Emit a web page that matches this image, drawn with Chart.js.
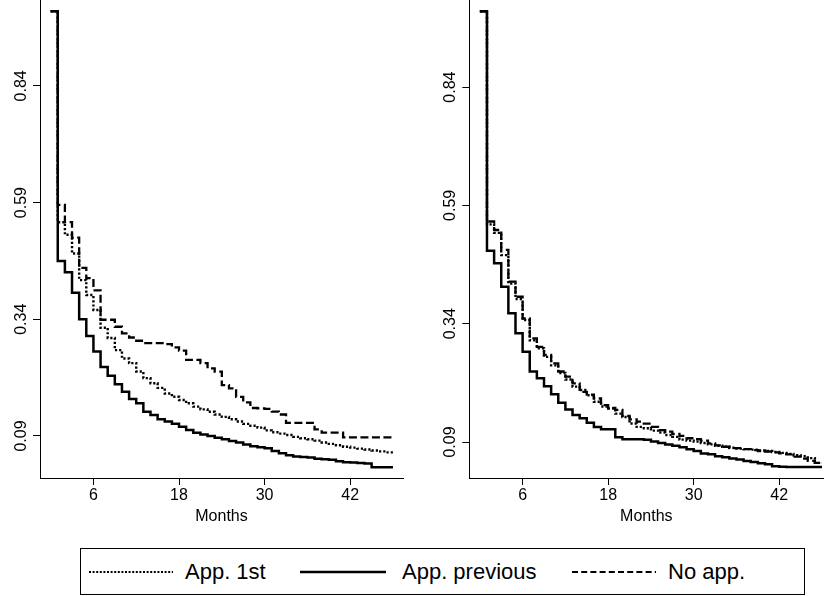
<!DOCTYPE html>
<html>
<head>
<meta charset="utf-8">
<script src="https://cdn.jsdelivr.net/npm/chart.js@4.4.1/dist/chart.umd.min.js"></script>
<style>
	html, body { margin: 0; padding: 0; background: #fff; }
	body { width: 828px; height: 596px; position: relative; overflow: hidden; font-family: "Liberation Sans", Arial, sans-serif; }
	canvas { position: absolute; top: 0; }
	#leftChart { left: 0; }
	#rightChart { left: 414px; }
	#legend { position: absolute; left: 80px; top: 548px; width: 725px; height: 47px; border: 1px solid #000; box-sizing: border-box; }
	#legend .key { position: absolute; top: 0; height: 45px; display: flex; align-items: center; }
	#legend svg { display: block; }
	#legend span { font-size: 22px; color: #000; white-space: nowrap; }
</style>
</head>
<body>
<canvas id="leftChart" width="414" height="530"></canvas>
<canvas id="rightChart" width="414" height="530"></canvas>
<div id="legend">
	<div class="key" style="left:8px"><svg width="84" height="6"><line x1="0" y1="3" x2="84" y2="3" stroke="#000" stroke-width="2" stroke-dasharray="2 1.6"/></svg><span style="margin-left:12px">App. 1st</span></div>
	<div class="key" style="left:219px"><svg width="86" height="6"><line x1="0" y1="3" x2="86" y2="3" stroke="#000" stroke-width="2.5"/></svg><span style="margin-left:16px">App. previous</span></div>
	<div class="key" style="left:491px"><svg width="84" height="6"><line x1="0" y1="3" x2="84" y2="3" stroke="#000" stroke-width="2" stroke-dasharray="6 3.2"/></svg><span style="margin-left:12px">No app.</span></div>
</div>
<script>
const months = [0, 1, 2, 3, 4, 5, 6, 7, 8, 9, 10, 11, 12, 13, 14, 15, 16, 17, 18, 19, 20, 21, 22, 23, 24,
	25, 26, 27, 28, 29, 30, 31, 32, 33, 34, 35, 36, 37, 38, 39, 40, 41, 42, 43, 44, 45, 46, 47, 48];
const xTicks = [6, 18, 30, 42];
const yTicks = [0.09, 0.34, 0.59, 0.84];

// left panel
const app1stLeft = [1.0, 0.548, 0.521, 0.481, 0.424, 0.392, 0.360, 0.322, 0.300, 0.274, 0.256, 0.246, 0.228,
	0.214, 0.203, 0.193, 0.181, 0.174, 0.167, 0.160, 0.153, 0.147, 0.142, 0.136, 0.131, 0.126, 0.121, 0.116,
	0.112, 0.108, 0.102, 0.098, 0.095, 0.092, 0.088, 0.085, 0.083, 0.080, 0.076, 0.073, 0.070, 0.067, 0.065,
	0.063, 0.061, 0.059, 0.057, 0.055, 0.055];
const appPrevLeft = [1.0, 0.465, 0.441, 0.397, 0.340, 0.304, 0.271, 0.238, 0.219, 0.201, 0.185, 0.169, 0.160,
	0.142, 0.135, 0.126, 0.121, 0.116, 0.110, 0.103, 0.097, 0.093, 0.090, 0.086, 0.083, 0.079, 0.076, 0.072,
	0.068, 0.066, 0.064, 0.058, 0.053, 0.049, 0.046, 0.045, 0.044, 0.041, 0.040, 0.039, 0.036, 0.034, 0.033,
	0.032, 0.031, 0.023, 0.023, 0.023, 0.023];
const noAppLeft = [1.0, 0.585, 0.548, 0.515, 0.450, 0.428, 0.402, 0.339, 0.339, 0.324, 0.310, 0.301, 0.294,
	0.289, 0.289, 0.289, 0.287, 0.280, 0.273, 0.253, 0.253, 0.246, 0.235, 0.228, 0.199, 0.192, 0.174, 0.162,
	0.150, 0.149, 0.148, 0.142, 0.136, 0.118, 0.118, 0.118, 0.118, 0.104, 0.097, 0.097, 0.097, 0.087, 0.087,
	0.087, 0.087, 0.087, 0.087, 0.087, 0.087];

// right panel
const app1stRight = [1.0, 0.550, 0.532, 0.485, 0.425, 0.392, 0.348, 0.305, 0.288, 0.270, 0.252, 0.236, 0.222,
	0.207, 0.200, 0.189, 0.175, 0.165, 0.161, 0.150, 0.143, 0.129, 0.122, 0.119, 0.114, 0.110, 0.105, 0.101,
	0.095, 0.093, 0.091, 0.088, 0.085, 0.082, 0.080, 0.078, 0.076, 0.075, 0.074, 0.072, 0.071, 0.069, 0.067,
	0.065, 0.062, 0.060, 0.056, 0.046, 0.046];
const appPrevRight = [1.0, 0.494, 0.468, 0.418, 0.362, 0.320, 0.281, 0.239, 0.225, 0.208, 0.191, 0.173, 0.159,
	0.147, 0.140, 0.131, 0.122, 0.117, 0.117, 0.100, 0.096, 0.096, 0.096, 0.095, 0.091, 0.088, 0.085, 0.082,
	0.079, 0.075, 0.071, 0.066, 0.064, 0.060, 0.058, 0.055, 0.053, 0.050, 0.048, 0.045, 0.043, 0.039, 0.038,
	0.037, 0.037, 0.037, 0.037, 0.037, 0.037];
const noAppRight = [1.0, 0.556, 0.538, 0.496, 0.429, 0.397, 0.351, 0.309, 0.291, 0.274, 0.256, 0.239, 0.228,
	0.214, 0.196, 0.190, 0.182, 0.168, 0.162, 0.158, 0.145, 0.138, 0.133, 0.129, 0.122, 0.115, 0.112, 0.107,
	0.103, 0.098, 0.096, 0.093, 0.087, 0.083, 0.080, 0.077, 0.077, 0.075, 0.073, 0.071, 0.070, 0.068, 0.066,
	0.064, 0.059, 0.055, 0.050, 0.046, 0.046];

const font = '"Liberation Sans", Arial, sans-serif';

// Stata style vertical y labels, drawn at the scale's own tick pixels
const verticalYLabels = {
	id: "verticalYLabels",
	afterDraw(chart, args, opts) {
		const scale = chart.scales.y;
		const ctx = chart.ctx;
		ctx.save();
		ctx.font = "16px " + font;
		ctx.fillStyle = "#000";
		ctx.textAlign = "center";
		ctx.textBaseline = "alphabetic";
		yTicks.forEach((v) => {
			ctx.save();
			ctx.translate(opts.x, scale.getPixelForValue(v));
			ctx.rotate(-Math.PI / 2);
			ctx.fillText(v.toFixed(2), 0, 0);
			ctx.restore();
		});
		ctx.restore();
	},
};

const series = (values) => months.map((m, i) => ({ x: m, y: values[i] }));

const panel = (id, data, opt) => {
	new Chart(document.getElementById(id), {
		type: "line",
		data: {
			datasets: [
				{ label: "App. 1st", data: series(data.app1st), borderDash: [2.2, 2], borderWidth: 2.4 },
				{ label: "App. previous", data: series(data.appPrev), borderWidth: 2.5 },
				{ label: "No app.", data: series(data.noApp), borderDash: [8, 3.5], borderWidth: 2.3 },
			].map((d) => ({
				...d,
				stepped: "before",
				borderColor: "#000",
				pointRadius: 0,
				fill: false,
			})),
		},
		options: {
			responsive: false,
			animation: false,
			layout: { padding: { top: 0, right: opt.padRight, bottom: 0, left: 0 } },
			plugins: {
				legend: { display: false },
				tooltip: { enabled: false },
				verticalYLabels: { x: opt.labelX },
			},
			scales: {
				x: {
					type: "linear",
					min: opt.xMin,
					max: opt.xMax,
					afterBuildTicks: (axis) => {
						axis.ticks = xTicks.map((v) => ({ value: v }));
					},
					afterFit: (axis) => {
						axis.height = 52;
					},
					ticks: { color: "#000", font: { family: font, size: 16 }, padding: 1, maxRotation: 0, autoSkip: false },
					grid: { drawOnChartArea: false, drawTicks: true, tickLength: 7, color: "#000" },
					border: { display: true, color: "#000", width: 1 },
					title: { display: true, text: "Months", color: "#000", font: { family: font, size: 16 }, padding: { top: 0, bottom: 4 } },
				},
				y: {
					type: "linear",
					min: opt.yMin,
					max: opt.yMax,
					afterBuildTicks: (axis) => {
						axis.ticks = yTicks.map((v) => ({ value: v }));
					},
					afterFit: (axis) => {
						axis.width = opt.axisWidth;
					},
					ticks: { display: false },
					grid: { drawOnChartArea: false, drawTicks: true, tickLength: 7, color: "#000" },
					border: { display: true, color: "#000", width: 1 },
				},
			},
		},
		plugins: [verticalYLabels],
	});
};

panel("leftChart", { app1st: app1stLeft, appPrev: appPrevLeft, noApp: noAppLeft },
	{ xMin: -1.49, xMax: 49.4, yMin: 0, yMax: 1.024, axisWidth: 40, padRight: 11, labelX: 26 });
panel("rightChart", { app1st: app1stRight, appPrev: appPrevRight, noApp: noAppRight },
	{ xMin: -1.48, xMax: 48.18, yMin: 0.014, yMax: 1.024, axisWidth: 55.3, padRight: 4.7, labelX: 41 });
</script>
</body>
</html>
